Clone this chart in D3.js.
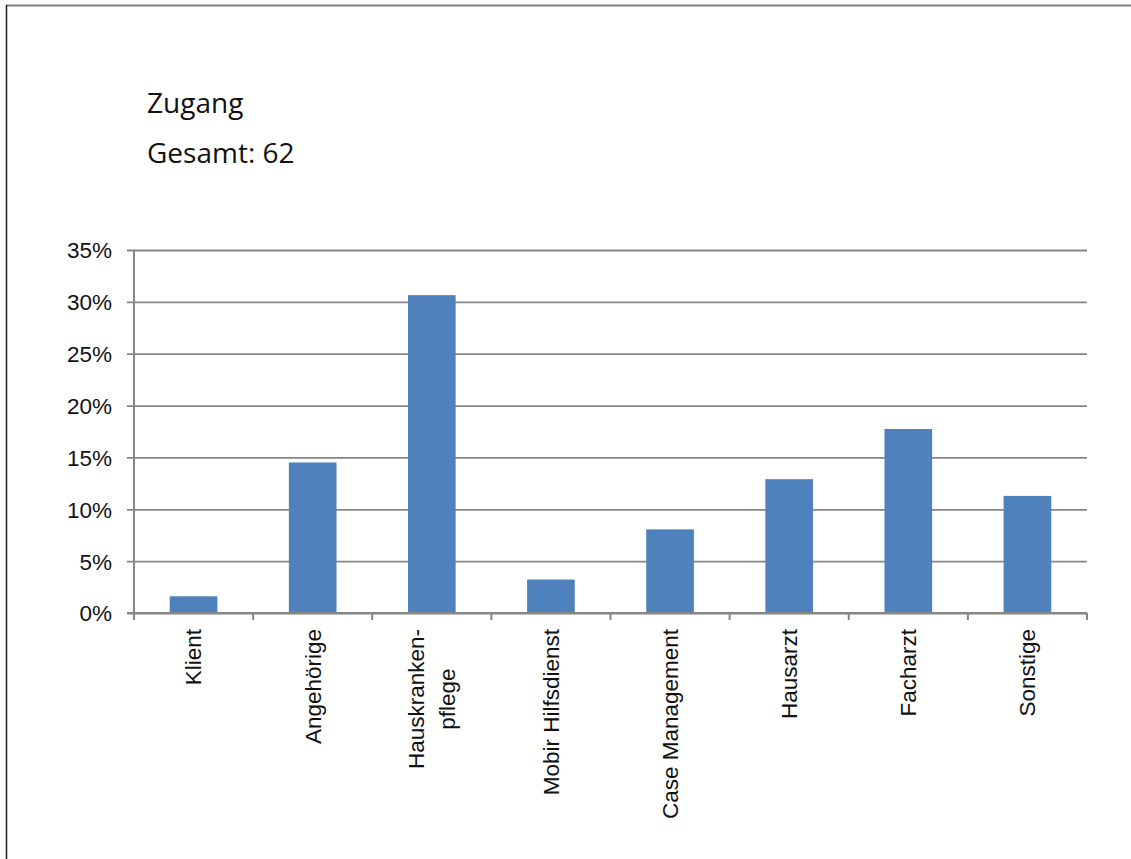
<!DOCTYPE html>
<html>
<head>
<meta charset="utf-8">
<script src="https://cdn.jsdelivr.net/npm/d3@7/dist/d3.min.js"></script>
<style>
  html, body { margin: 0; padding: 0; background: #f8f9f8; }
  svg { display: block; }
</style>
</head>
<body>
<svg id="chart" width="1131" height="859"></svg>
<script>
// Zugang – share of referrals by source (n = 62)
const categories = ["Klient", "Angehörige", "Hauskranken-\npflege", "Mobir Hilfsdienst",
                    "Case Management", "Hausarzt", "Facharzt", "Sonstige"];
const counts = [1, 9, 19, 2, 5, 8, 11, 7];
const total = 62;
const shares = counts.map(c => c / total);
const yTicks = [0, 0.05, 0.10, 0.15, 0.20, 0.25, 0.30, 0.35];
const title = "Zugang";
const subtitle = "Gesamt: " + total;

const svg = d3.select("#chart");

// frame
svg.append("rect").attr("x", 6).attr("y", 5).attr("width", 1131).attr("height", 900)
  .attr("fill", "#ffffff");
svg.append("line").attr("x1", 6).attr("x2", 1131).attr("y1", 5.5).attr("y2", 5.5)
  .attr("stroke", "#7f7f7f").attr("stroke-width", 2);
svg.append("line").attr("x1", 6.5).attr("x2", 6.5).attr("y1", 5).attr("y2", 859)
  .attr("stroke", "#1e1e1e").attr("stroke-width", 1.5);

// titles
const titleFont = "'Open Sans', Lato, sans-serif";
svg.append("text").attr("x", 147).attr("y", 113)
  .attr("font-family", titleFont).attr("font-size", 28)
  .attr("font-weight", 500).attr("fill", "#111").text(title);
svg.append("text").attr("x", 147).attr("y", 163)
  .attr("font-family", titleFont).attr("font-size", 28)
  .attr("fill", "#111").text(subtitle);

const plotLeft = 134, plotRight = 1087, plotTop = 250, plotBottom = 613;
const axisColor = "#868686";
const labelFont = "'Liberation Sans', Arial, sans-serif";

const y = d3.scaleLinear().domain([0, 0.35]).range([plotBottom, plotTop]);
const x = d3.scaleBand().domain(categories).range([plotLeft, plotRight])
  .paddingInner(0.6).paddingOuter(0.3);
const xCell = d3.scaleBand().domain(categories).range([plotLeft, plotRight]).padding(0);

// gridlines + y tick labels
const yAxis = d3.axisLeft(y).tickValues(yTicks)
  .tickSize(-(plotRight - plotLeft)).tickSizeOuter(0)
  .tickFormat(d => Math.round(d * 100) + "%");
const gy = svg.append("g").attr("transform", `translate(${plotLeft},0)`).call(yAxis);
gy.select(".domain").remove();
gy.selectAll(".tick line").attr("stroke", axisColor).attr("stroke-width", 1.8)
  .attr("x1", -7);
gy.selectAll(".tick text").attr("x", -22).attr("dy", "0.35em")
  .attr("font-family", labelFont).attr("font-size", 22.5).attr("fill", "#111");

// bars
svg.append("g").selectAll("rect").data(categories).join("rect")
  .attr("x", d => x(d))
  .attr("width", x.bandwidth())
  .attr("y", (d, i) => y(shares[i]))
  .attr("height", (d, i) => y(0) - y(shares[i]))
  .attr("fill", "#4f81bd");

// y axis line
svg.append("line").attr("x1", plotLeft).attr("x2", plotLeft)
  .attr("y1", plotTop).attr("y2", plotBottom + 6)
  .attr("stroke", axisColor).attr("stroke-width", 2);

// x axis line and category boundary ticks
svg.append("line").attr("x1", plotLeft - 7).attr("x2", plotRight)
  .attr("y1", plotBottom).attr("y2", plotBottom)
  .attr("stroke", axisColor).attr("stroke-width", 2);
const bounds = categories.map(c => xCell(c)).concat([plotRight]);
svg.append("g").selectAll("line").data(bounds).join("line")
  .attr("x1", d => d).attr("x2", d => d)
  .attr("y1", plotBottom).attr("y2", plotBottom + 7)
  .attr("stroke", axisColor).attr("stroke-width", 2);

// rotated category labels
const labelTop = 629;
const lineGap = 31;
categories.forEach(c => {
  const lines = c.split("\n");
  const cx = xCell(c) + xCell.bandwidth() / 2;
  const t = svg.append("text")
    .attr("font-family", labelFont).attr("font-size", 22.5).attr("fill", "#111")
    .attr("text-anchor", "middle");
  const spans = lines.map((ln, i) => t.append("tspan")
    .attr("x", 0).attr("y", (i - (lines.length - 1) / 2) * lineGap).attr("dy", "0.35em").text(ln));
  const maxLen = d3.max(spans, s => s.node().getComputedTextLength());
  t.attr("transform", `translate(${cx},${labelTop + maxLen / 2}) rotate(-90)`);
});
</script>
</body>
</html>
